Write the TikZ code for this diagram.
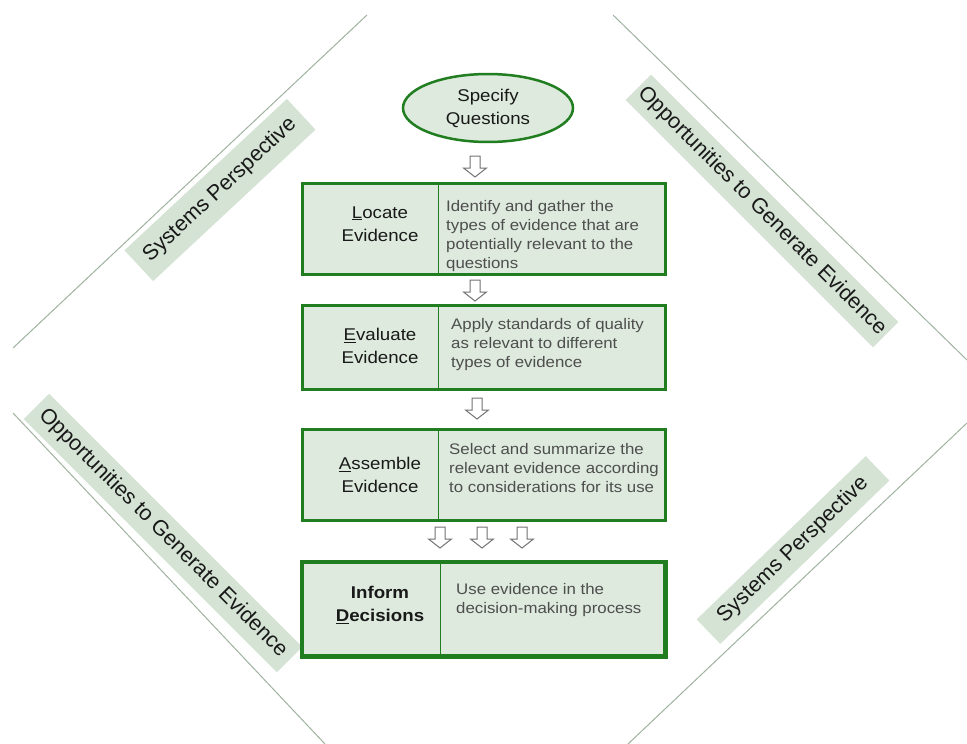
\documentclass[tikz,border=0pt]{standalone}
\usepackage{fontspec}
\setmainfont{Liberation Sans}
\newfontfamily\wide[FakeStretch=1.1]{Liberation Sans}
\usetikzlibrary{shapes.geometric}
\definecolor{boxfill}{RGB}{221,234,221}
\definecolor{labfill}{RGB}{212,227,212}
\definecolor{boxline}{RGB}{32,125,32}
\definecolor{diagline}{RGB}{160,178,160}
\definecolor{lefttext}{RGB}{25,25,25}
\definecolor{righttext}{RGB}{78,78,78}
\definecolor{arrowline}{RGB}{115,115,115}
\newcommand\hollowdown[1]{\draw[harrow] (#1) ++(-5,0) -- ++(10,0) -- ++(0,12) -- ++(6.5,0) -- ++(-11.5,9) -- ++(-11.5,-9) -- ++(6.5,0) -- cycle;}
\begin{document}
\begin{tikzpicture}[x=1pt,y=-1pt,
  leftcell/.style={draw=boxline, line width=1.3pt, fill=boxfill, minimum width=136pt, inner sep=0pt, anchor=north west},
  rightcell/.style={draw=boxline, line width=1.3pt, fill=boxfill, minimum width=226pt, inner sep=0pt, anchor=north west},
  outer/.style={draw=boxline, line width=3pt},
  outerthick/.style={draw=boxline, line width=4.5pt},
  lefttxt/.style={align=center, inner sep=0pt, text=lefttext, font=\wide\fontsize{17}{23}\selectfont},
  righttxt/.style={align=left, inner sep=0pt, anchor=north west, text=righttext, font=\wide\fontsize{15.3}{19}\selectfont},
  harrow/.style={draw=arrowline, line width=1pt, fill=white, line join=miter},
  diag/.style={draw=diagline, line width=1pt},
  diaglab/.style={fill=labfill, inner sep=0pt, text=lefttext, font=\fontsize{21.5}{24}\selectfont}]
\useasboundingbox (0,0) rectangle (967,744);
\fill[white] (0,0) rectangle (967,744);

% diagonal lines
\draw[diag] (13,348) -- (367,15);
\draw[diag] (613,15) -- (967,360);
\draw[diag] (13,413) -- (325,744);
\draw[diag] (967,423) -- (628,744);

% diagonal labels
\node[diaglab, rotate=43, minimum width=222pt, minimum height=42pt] (tl) at (220,190) {Systems Perspective};
\node[diaglab, rotate=-45, minimum width=350pt, minimum height=36pt] (tr) at (762,211) {Opportunities to Generate Evidence};
\node[diaglab, rotate=-45, minimum width=358pt, minimum height=36pt] (bl) at (163,533) {Opportunities to Generate Evidence};
\node[diaglab, rotate=44, minimum width=235pt, minimum height=34pt] (br) at (793,550) {Systems Perspective};

% top ellipse
\node[ellipse, draw=boxline, line width=2.5pt, fill=boxfill, minimum width=170pt, minimum height=68pt, align=center, text=lefttext, font=\wide\fontsize{17}{23}\selectfont] (spec) at (488,108) {Specify\\Questions};

% Locate
\node[leftcell, minimum height=90pt] (locL) at (302,183) {};
\node[rightcell, minimum height=90pt] (locR) at (438,183) {};
\draw[outer] (locL.north west) rectangle (locR.south east);
\node[lefttxt] (locLt) at (380,224) {\underline{L}ocate\\Evidence};
\node[righttxt] (locRt) at (446,200) {Identify and gather the\\types of evidence that are\\potentially relevant to the\\questions};

% Evaluate
\node[leftcell, minimum height=83pt] (evaL) at (302,305) {};
\node[rightcell, minimum height=83pt] (evaR) at (438,305) {};
\draw[outer] (evaL.north west) rectangle (evaR.south east);
\node[lefttxt] (evaLt) at (380,346) {\underline{E}valuate\\Evidence};
\node[righttxt] (evaRt) at (451,318) {Apply standards of quality\\as relevant to different\\types of evidence};

% Assemble
\node[leftcell, minimum height=90pt] (assL) at (302,429) {};
\node[rightcell, minimum height=90pt] (assR) at (438,429) {};
\draw[outer] (assL.north west) rectangle (assR.south east);
\node[lefttxt] (assLt) at (380,475) {\underline{A}ssemble\\Evidence};
\node[righttxt] (assRt) at (449,443) {Select and summarize the\\relevant evidence according\\to considerations for its use};

% Inform
\node[leftcell, minimum width=138pt, minimum height=93pt] (infL) at (302,562) {};
\node[rightcell, minimum width=224pt, minimum height=93pt] (infR) at (440,562) {};
\draw[outerthick] (infL.north west) rectangle (infR.south east);
\node[lefttxt, font=\wide\bfseries\fontsize{17}{23}\selectfont] (infLt) at (380,605) {Inform\\\underline{D}ecisions};
\node[righttxt] (infRt) at (456,583) {Use evidence in the\\decision-making process};

% hollow arrows
\coordinate (a1) at (475,156);
\coordinate (a2) at (475,280);
\coordinate (a3) at (477,398);
\coordinate (a4) at (440,527);
\coordinate (a5) at (482,527);
\coordinate (a6) at (522,527);
\hollowdown{a1}
\hollowdown{a2}
\hollowdown{a3}
\hollowdown{a4}
\hollowdown{a5}
\hollowdown{a6}
\end{tikzpicture}
\end{document}
